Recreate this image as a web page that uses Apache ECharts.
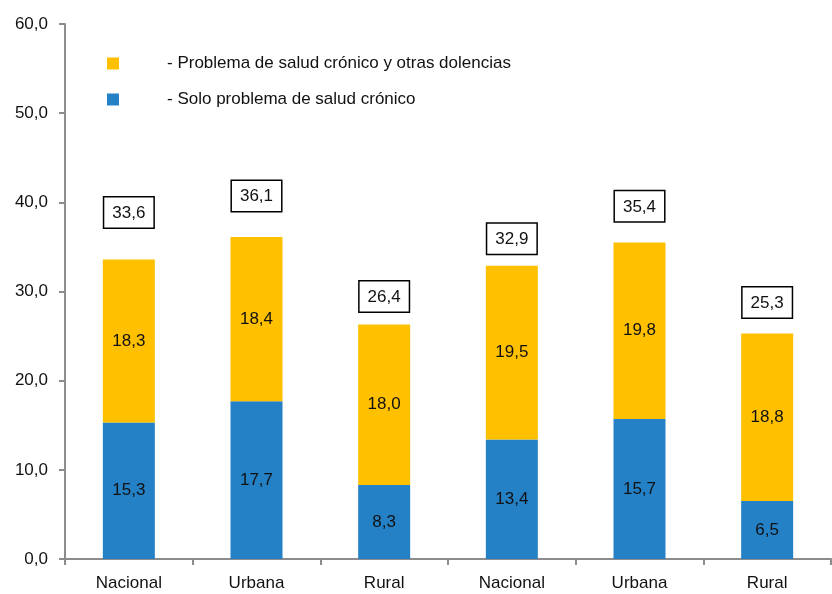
<!DOCTYPE html>
<html>
<head>
<meta charset="utf-8">
<script src="https://cdn.jsdelivr.net/npm/echarts@6/dist/echarts.min.js"></script>
<style>
  html, body { margin: 0; padding: 0; background: #fff; }
  #chart { width: 832px; height: 594px; }
</style>
</head>
<body>
<div id="chart"></div>
<script>
// categorías y valores
const categories = ['Nacional', 'Urbana', 'Rural', 'Nacional', 'Urbana', 'Rural'];
const soloCronico = [15.3, 17.7, 8.3, 13.4, 15.7, 6.5];
const cronicoYOtras = [18.3, 18.4, 18.0, 19.5, 19.8, 18.8];
const totales = [33.6, 36.1, 26.4, 32.9, 35.4, 25.3];
const yTicks = [0, 10, 20, 30, 40, 50, 60];

// separación de cada recuadro de total sobre su barra (px)
const totalGap = [32, 26, 12, 12, 22, 16];

const nameYellow = '- Problema de salud crónico y otras dolencias';
const nameBlue = '- Solo problema de salud crónico';
const FONT = "'Liberation Sans Narrow', 'Arial Narrow', 'Liberation Sans', sans-serif";
const fmt = v => Number(v).toFixed(1).replace('.', ',');

const chart = echarts.init(document.getElementById('chart'));
chart.setOption({
  animation: false,
  backgroundColor: '#fff',
  textStyle: { fontFamily: FONT, color: '#111' },
  grid: { left: 65, right: 1, top: 24, bottom: 35, containLabel: false },
  legend: {
    orient: 'vertical',
    left: 102,
    top: 50,
    itemWidth: 12,
    itemHeight: 12,
    itemGap: 19,
    icon: 'rect',
    data: [nameYellow, nameBlue],
    textStyle: { fontFamily: FONT, fontSize: 17, color: '#111', padding: [0, 0, 0, 43] }
  },
  xAxis: {
    type: 'category',
    data: categories,
    axisLine: { lineStyle: { color: '#8c8c8c', width: 2 } },
    axisTick: { show: true, length: 6, lineStyle: { color: '#8c8c8c', width: 2 } },
    axisLabel: { fontFamily: FONT, fontSize: 17, color: '#111', margin: 16 }
  },
  yAxis: {
    type: 'value',
    min: yTicks[0],
    max: yTicks[yTicks.length - 1],
    interval: 10,
    splitLine: { show: false },
    axisLine: { show: true, lineStyle: { color: '#8c8c8c', width: 2 } },
    axisTick: { show: true, length: 6, lineStyle: { color: '#8c8c8c', width: 2 } },
    axisLabel: { fontFamily: FONT, fontSize: 17, color: '#111', margin: 17, formatter: fmt }
  },
  series: [
    {
      name: nameBlue,
      type: 'bar',
      stack: 'total',
      barWidth: 52,
      data: soloCronico,
      itemStyle: { color: '#2581C6' },
      label: { show: true, position: 'inside', fontFamily: FONT, fontSize: 17, color: '#111', formatter: p => fmt(p.value) }
    },
    {
      name: nameYellow,
      type: 'bar',
      stack: 'total',
      barWidth: 52,
      data: cronicoYOtras,
      itemStyle: { color: '#FFC000' },
      label: { show: true, position: 'inside', fontFamily: FONT, fontSize: 17, color: '#111', formatter: p => fmt(p.value) }
    },
    {
      name: 'Total',
      type: 'scatter',
      symbolSize: 0,
      silent: true,
      itemStyle: { opacity: 1 },
      data: totales.map((v, i) => ({
        value: v,
        label: { distance: totalGap[i] }
      })),
      label: {
        show: true,
        position: 'top',
        fontFamily: FONT,
        fontSize: 17,
        color: '#111',
        borderColor: '#000',
        borderWidth: 1.5,
        padding: [7, 8, 6, 8],
        backgroundColor: '#fff',
        formatter: p => fmt(p.value)
      }
    }
  ]
});
</script>
</body>
</html>
